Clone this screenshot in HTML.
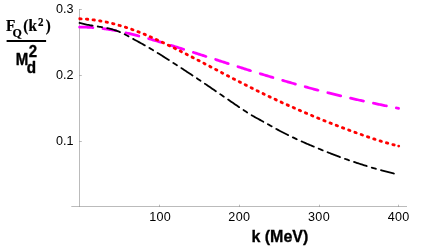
<!DOCTYPE html>
<html><head><meta charset="utf-8"><title>plot</title>
<style>
html,body{margin:0;padding:0;background:#fff;}
svg{display:block;will-change:transform;}
svg{font-family:"Liberation Sans",sans-serif;}
text{fill:#000;}
.s{font-family:"Liberation Serif",serif;font-weight:bold;}
.b{font-weight:bold;}
</style></head><body>
<svg width="424" height="249" viewBox="0 0 424 249">
<rect width="424" height="249" fill="#fff"/>
<!-- axes -->
<g stroke="#000" stroke-width="0.27" fill="none">
<path d="M79.5,9V206.5"/>
<path d="M71.3,206.5H407"/>
<path d="M79.5,9.5h2.3M79.5,75.5h2.3M79.5,141.5h2.3"/>
<path d="M159.5,206.5v-1.8M239.5,206.5v-1.8M319.5,206.5v-1.8M398.5,206.5v-1.8"/>
</g>
<!-- curves -->
<g fill="none">
<path d="M79.60,27.24 L80.60,27.22 L81.60,27.20 L82.60,27.19 L83.60,27.19 L84.60,27.19 L85.60,27.21 L86.60,27.23 L87.60,27.26 L88.60,27.30 L89.60,27.34 L90.60,27.39 L91.60,27.45 L92.60,27.52 L93.60,27.59 L94.60,27.67 L95.60,27.76 L96.60,27.85 L97.60,27.95 L98.60,28.05 L99.60,28.16 L100.60,28.28 L101.60,28.40 L102.60,28.53 L103.60,28.66 L104.60,28.80 L105.60,28.94 L106.60,29.09 L107.60,29.24 L108.60,29.40 L109.60,29.56 L110.60,29.73 L111.60,29.91 L112.60,30.08 L113.60,30.27 L114.60,30.45 L115.60,30.64 L116.60,30.84 L117.60,31.04 L118.60,31.24 L119.60,31.45 L120.60,31.66 L121.60,31.87 L122.60,32.09 L123.60,32.31 L124.60,32.53 L125.60,32.76 L126.60,32.99 L127.60,33.22 L128.60,33.46 L129.60,33.70 L130.60,33.94 L131.60,34.18 L132.60,34.43 L133.60,34.68 L134.60,34.93 L135.60,35.19 L136.60,35.45 L137.60,35.70 L138.60,35.97 L139.60,36.23 L140.60,36.50 L141.60,36.77 L142.60,37.04 L143.60,37.31 L144.60,37.58 L145.60,37.86 L146.60,38.14 L147.60,38.42 L148.60,38.70 L149.60,38.98 L150.60,39.27 L151.60,39.55 L152.60,39.84 L153.60,40.13 L154.60,40.42 L155.60,40.71 L156.60,41.01 L157.60,41.30 L158.60,41.60 L159.60,41.90 L160.60,42.19 L161.60,42.49 L162.60,42.79 L163.60,43.10 L164.60,43.40 L165.60,43.70 L166.60,44.01 L167.60,44.31 L168.60,44.62 L169.60,44.93 L170.60,45.24 L171.60,45.54 L172.60,45.85 L173.60,46.16 L174.60,46.47 L175.60,46.78 L176.60,47.09 L177.60,47.41 L178.60,47.72 L179.60,48.03 L180.60,48.35 L181.60,48.66 L182.60,48.97 L183.60,49.29 L184.60,49.61 L185.60,49.92 L186.60,50.24 L187.60,50.56 L188.60,50.87 L189.60,51.19 L190.60,51.51 L191.60,51.83 L192.60,52.15 L193.60,52.47 L194.60,52.79 L195.60,53.11 L196.60,53.43 L197.60,53.75 L198.60,54.07 L199.60,54.39 L200.60,54.71 L201.60,55.03 L202.60,55.35 L203.60,55.67 L204.60,55.99 L205.60,56.32 L206.60,56.64 L207.60,56.96 L208.60,57.28 L209.60,57.60 L210.60,57.92 L211.60,58.25 L212.60,58.57 L213.60,58.89 L214.60,59.21 L215.60,59.53 L216.60,59.86 L217.60,60.18 L218.60,60.50 L219.60,60.82 L220.60,61.14 L221.60,61.47 L222.60,61.79 L223.60,62.11 L224.60,62.43 L225.60,62.75 L226.60,63.07 L227.60,63.39 L228.60,63.71 L229.60,64.03 L230.60,64.35 L231.60,64.68 L232.60,65.00 L233.60,65.31 L234.60,65.63 L235.60,65.95 L236.60,66.27 L237.60,66.59 L238.60,66.91 L239.60,67.23 L240.60,67.55 L241.60,67.87 L242.60,68.18 L243.60,68.50 L244.60,68.82 L245.60,69.13 L246.60,69.45 L247.60,69.77 L248.60,70.08 L249.60,70.40 L250.60,70.71 L251.60,71.03 L252.60,71.34 L253.60,71.66 L254.60,71.97 L255.60,72.28 L256.60,72.59 L257.60,72.91 L258.60,73.21 L259.60,73.52 L260.60,73.82 L261.60,74.13 L262.60,74.43 L263.60,74.73 L264.60,75.04 L265.60,75.34 L266.60,75.64 L267.60,75.94 L268.60,76.24 L269.60,76.54 L270.60,76.84 L271.60,77.14 L272.60,77.44 L273.60,77.73 L274.60,78.03 L275.60,78.33 L276.60,78.62 L277.60,78.92 L278.60,79.21 L279.60,79.51 L280.60,79.80 L281.60,80.09 L282.60,80.38 L283.60,80.67 L284.60,80.96 L285.60,81.25 L286.60,81.54 L287.60,81.83 L288.60,82.12 L289.60,82.41 L290.60,82.69 L291.60,82.98 L292.60,83.26 L293.60,83.55 L294.60,83.83 L295.60,84.11 L296.60,84.39 L297.60,84.68 L298.60,84.96 L299.60,85.24 L300.60,85.51 L301.60,85.79 L302.60,86.07 L303.60,86.34 L304.60,86.62 L305.60,86.89 L306.60,87.17 L307.60,87.44 L308.60,87.71 L309.60,87.98 L310.60,88.25 L311.60,88.52 L312.60,88.79 L313.60,89.05 L314.60,89.32 L315.60,89.58 L316.60,89.85 L317.60,90.11 L318.60,90.37 L319.60,90.63 L320.60,90.89 L321.60,91.15 L322.60,91.41 L323.60,91.67 L324.60,91.92 L325.60,92.18 L326.60,92.43 L327.60,92.68 L328.60,92.93 L329.60,93.18 L330.60,93.43 L331.60,93.68 L332.60,93.93 L333.60,94.18 L334.60,94.42 L335.60,94.66 L336.60,94.91 L337.60,95.15 L338.60,95.39 L339.60,95.63 L340.60,95.87 L341.60,96.11 L342.60,96.34 L343.60,96.58 L344.60,96.82 L345.60,97.05 L346.60,97.28 L347.60,97.51 L348.60,97.74 L349.60,97.97 L350.60,98.20 L351.60,98.43 L352.60,98.66 L353.60,98.88 L354.60,99.11 L355.60,99.33 L356.60,99.56 L357.60,99.78 L358.60,100.00 L359.60,100.22 L360.60,100.44 L361.60,100.66 L362.60,100.87 L363.60,101.09 L364.60,101.31 L365.60,101.52 L366.60,101.74 L367.60,101.95 L368.60,102.16 L369.60,102.37 L370.60,102.59 L371.60,102.80 L372.60,103.02 L373.60,103.23 L374.60,103.44 L375.60,103.65 L376.60,103.86 L377.60,104.07 L378.60,104.28 L379.60,104.49 L380.60,104.70 L381.60,104.91 L382.60,105.12 L383.60,105.33 L384.60,105.53 L385.60,105.74 L386.60,105.95 L387.60,106.15 L388.60,106.36 L389.60,106.57 L390.60,106.77 L391.60,106.98 L392.60,107.19 L393.60,107.39 L394.60,107.60 L395.60,107.80 L396.60,108.01 L397.60,108.22 L398.60,108.42" stroke="#ff00ff" stroke-width="2.75" stroke-linecap="round" stroke-dasharray="13.3 10.1"/>
<path d="M79.75,18.78 L80.75,18.82 L81.75,18.87 L82.75,18.92 L83.75,18.98 L84.75,19.04 L85.75,19.11 L86.75,19.19 L87.75,19.28 L88.75,19.37 L89.75,19.47 L90.75,19.58 L91.75,19.69 L92.75,19.81 L93.75,19.94 L94.75,20.08 L95.75,20.22 L96.75,20.36 L97.75,20.52 L98.75,20.68 L99.75,20.85 L100.75,21.02 L101.75,21.20 L102.75,21.39 L103.75,21.58 L104.75,21.78 L105.75,21.98 L106.75,22.20 L107.75,22.41 L108.75,22.64 L109.75,22.87 L110.75,23.11 L111.75,23.35 L112.75,23.60 L113.75,23.85 L114.75,24.11 L115.75,24.38 L116.75,24.65 L117.75,24.92 L118.75,25.21 L119.75,25.50 L120.75,25.79 L121.75,26.09 L122.75,26.39 L123.75,26.70 L124.75,27.02 L125.75,27.34 L126.75,27.66 L127.75,27.99 L128.75,28.33 L129.75,28.67 L130.75,29.01 L131.75,29.36 L132.75,29.72 L133.75,30.08 L134.75,30.44 L135.75,30.82 L136.75,31.20 L137.75,31.59 L138.75,31.98 L139.75,32.37 L140.75,32.77 L141.75,33.18 L142.75,33.58 L143.75,34.00 L144.75,34.41 L145.75,34.83 L146.75,35.25 L147.75,35.68 L148.75,36.11 L149.75,36.55 L150.75,36.98 L151.75,37.43 L152.75,37.87 L153.75,38.32 L154.75,38.77 L155.75,39.23 L156.75,39.68 L157.75,40.14 L158.75,40.61 L159.75,41.07 L160.75,41.54 L161.75,42.02 L162.75,42.49 L163.75,42.97 L164.75,43.45 L165.75,43.93 L166.75,44.42 L167.75,44.91 L168.75,45.40 L169.75,45.89 L170.75,46.38 L171.75,46.86 L172.75,47.35 L173.75,47.84 L174.75,48.34 L175.75,48.83 L176.75,49.33 L177.75,49.83 L178.75,50.33 L179.75,50.83 L180.75,51.33 L181.75,51.84 L182.75,52.34 L183.75,52.85 L184.75,53.36 L185.75,53.87 L186.75,54.38 L187.75,54.89 L188.75,55.41 L189.75,55.92 L190.75,56.44 L191.75,56.96 L192.75,57.47 L193.75,57.99 L194.75,58.51 L195.75,59.03 L196.75,59.55 L197.75,60.08 L198.75,60.60 L199.75,61.12 L200.75,61.65 L201.75,62.17 L202.75,62.69 L203.75,63.22 L204.75,63.74 L205.75,64.27 L206.75,64.79 L207.75,65.32 L208.75,65.85 L209.75,66.37 L210.75,66.90 L211.75,67.42 L212.75,67.95 L213.75,68.47 L214.75,69.00 L215.75,69.53 L216.75,70.05 L217.75,70.58 L218.75,71.10 L219.75,71.63 L220.75,72.15 L221.75,72.67 L222.75,73.20 L223.75,73.72 L224.75,74.24 L225.75,74.76 L226.75,75.29 L227.75,75.81 L228.75,76.33 L229.75,76.85 L230.75,77.36 L231.75,77.88 L232.75,78.40 L233.75,78.92 L234.75,79.43 L235.75,79.95 L236.75,80.46 L237.75,80.98 L238.75,81.49 L239.75,82.00 L240.75,82.51 L241.75,83.02 L242.75,83.53 L243.75,84.04 L244.75,84.55 L245.75,85.05 L246.75,85.56 L247.75,86.06 L248.75,86.56 L249.75,87.06 L250.75,87.57 L251.75,88.06 L252.75,88.56 L253.75,89.06 L254.75,89.56 L255.75,90.05 L256.75,90.55 L257.75,91.04 L258.75,91.53 L259.75,92.02 L260.75,92.51 L261.75,93.00 L262.75,93.48 L263.75,93.97 L264.75,94.45 L265.75,94.93 L266.75,95.42 L267.75,95.90 L268.75,96.38 L269.75,96.85 L270.75,97.33 L271.75,97.79 L272.75,98.26 L273.75,98.73 L274.75,99.20 L275.75,99.66 L276.75,100.12 L277.75,100.59 L278.75,101.05 L279.75,101.50 L280.75,101.96 L281.75,102.42 L282.75,102.87 L283.75,103.33 L284.75,103.78 L285.75,104.23 L286.75,104.68 L287.75,105.13 L288.75,105.58 L289.75,106.03 L290.75,106.47 L291.75,106.91 L292.75,107.36 L293.75,107.80 L294.75,108.24 L295.75,108.68 L296.75,109.11 L297.75,109.55 L298.75,109.98 L299.75,110.42 L300.75,110.85 L301.75,111.28 L302.75,111.71 L303.75,112.14 L304.75,112.56 L305.75,112.99 L306.75,113.42 L307.75,113.84 L308.75,114.26 L309.75,114.68 L310.75,115.10 L311.75,115.52 L312.75,115.94 L313.75,116.35 L314.75,116.77 L315.75,117.18 L316.75,117.59 L317.75,118.00 L318.75,118.41 L319.75,118.82 L320.75,119.22 L321.75,119.62 L322.75,120.03 L323.75,120.43 L324.75,120.83 L325.75,121.23 L326.75,121.63 L327.75,122.02 L328.75,122.42 L329.75,122.81 L330.75,123.21 L331.75,123.60 L332.75,123.99 L333.75,124.38 L334.75,124.77 L335.75,125.16 L336.75,125.54 L337.75,125.93 L338.75,126.31 L339.75,126.69 L340.75,127.07 L341.75,127.45 L342.75,127.83 L343.75,128.20 L344.75,128.58 L345.75,128.95 L346.75,129.33 L347.75,129.70 L348.75,130.07 L349.75,130.43 L350.75,130.80 L351.75,131.17 L352.75,131.53 L353.75,131.89 L354.75,132.25 L355.75,132.61 L356.75,132.97 L357.75,133.32 L358.75,133.67 L359.75,134.03 L360.75,134.38 L361.75,134.74 L362.75,135.09 L363.75,135.44 L364.75,135.79 L365.75,136.14 L366.75,136.49 L367.75,136.83 L368.75,137.17 L369.75,137.51 L370.75,137.85 L371.75,138.19 L372.75,138.52 L373.75,138.85 L374.75,139.18 L375.75,139.50 L376.75,139.82 L377.75,140.14 L378.75,140.46 L379.75,140.78 L380.75,141.09 L381.75,141.40 L382.75,141.70 L383.75,142.00 L384.75,142.30 L385.75,142.60 L386.75,142.89 L387.75,143.18 L388.75,143.47 L389.75,143.75 L390.75,144.03 L391.75,144.30 L392.75,144.57 L393.75,144.84 L394.75,145.10 L395.75,145.36 L396.75,145.61 L397.75,145.86 L398.75,146.11 L398.90,146.14" stroke="#ff0000" stroke-width="2.85" stroke-linecap="round" stroke-dasharray="1.4 5.25"/>
<circle cx="398.7" cy="146.09" r="1.4" fill="#ff0000"/>
<path d="M79.50,22.91 L80.50,23.19 L81.50,23.45 L82.50,23.70 L83.50,23.94 L84.50,24.16 L85.50,24.38 L86.50,24.59 L87.50,24.78 L88.50,24.97 L89.50,25.15 L90.50,25.33 L91.50,25.50 L92.50,25.67 L93.50,25.83 L94.50,25.99 L95.50,26.15 L96.50,26.31 L97.50,26.47 L98.50,26.63 L99.50,26.79 L100.50,26.95 L101.50,27.12 L102.50,27.29 L103.50,27.47 L104.50,27.65 L105.50,27.85 L106.50,28.05 L107.50,28.25 L108.50,28.47 L109.50,28.70 L110.50,28.94 L111.50,29.20 L112.50,29.46 L113.50,29.75 L114.50,30.05 L115.50,30.37 L116.50,30.70 L117.50,31.06 L118.50,31.44 L119.50,31.84 L120.50,32.27 L121.50,32.72 L122.50,33.20 L123.50,33.69 L124.50,34.21 L125.50,34.74 L126.50,35.28 L127.50,35.83 L128.50,36.38 L129.50,36.94 L130.50,37.49 L131.50,38.04 L132.50,38.59 L133.50,39.13 L134.50,39.68 L135.50,40.23 L136.50,40.77 L137.50,41.32 L138.50,41.86 L139.50,42.41 L140.50,42.96 L141.50,43.51 L142.50,44.06 L143.50,44.62 L144.50,45.18 L145.50,45.74 L146.50,46.31 L147.50,46.88 L148.50,47.45 L149.50,48.03 L150.50,48.62 L151.50,49.21 L152.50,49.81 L153.50,50.41 L154.50,51.01 L155.50,51.62 L156.50,52.23 L157.50,52.85 L158.50,53.47 L159.50,54.10 L160.50,54.72 L161.50,55.35 L162.50,55.98 L163.50,56.62 L164.50,57.25 L165.50,57.89 L166.50,58.53 L167.50,59.17 L168.50,59.81 L169.50,60.46 L170.50,61.10 L171.50,61.74 L172.50,62.39 L173.50,63.03 L174.50,63.68 L175.50,64.32 L176.50,64.97 L177.50,65.62 L178.50,66.26 L179.50,66.91 L180.50,67.56 L181.50,68.21 L182.50,68.86 L183.50,69.51 L184.50,70.17 L185.50,70.82 L186.50,71.47 L187.50,72.13 L188.50,72.79 L189.50,73.44 L190.50,74.10 L191.50,74.76 L192.50,75.42 L193.50,76.08 L194.50,76.74 L195.50,77.41 L196.50,78.07 L197.50,78.74 L198.50,79.41 L199.50,80.08 L200.50,80.75 L201.50,81.42 L202.50,82.09 L203.50,82.77 L204.50,83.44 L205.50,84.12 L206.50,84.80 L207.50,85.48 L208.50,86.16 L209.50,86.84 L210.50,87.52 L211.50,88.20 L212.50,88.89 L213.50,89.57 L214.50,90.26 L215.50,90.94 L216.50,91.63 L217.50,92.31 L218.50,93.00 L219.50,93.68 L220.50,94.37 L221.50,95.06 L222.50,95.75 L223.50,96.43 L224.50,97.12 L225.50,97.81 L226.50,98.49 L227.50,99.18 L228.50,99.86 L229.50,100.55 L230.50,101.23 L231.50,101.92 L232.50,102.60 L233.50,103.28 L234.50,103.97 L235.50,104.65 L236.50,105.33 L237.50,106.01 L238.50,106.68 L239.50,107.36 L240.50,108.04 L241.50,108.71 L242.50,109.38 L243.50,110.05 L244.50,110.71 L245.50,111.36 L246.50,112.01 L247.50,112.65 L248.50,113.28 L249.50,113.91 L250.50,114.52 L251.50,115.12 L252.50,115.71 L253.50,116.28 L254.50,116.86 L255.50,117.42 L256.50,117.97 L257.50,118.53 L258.50,119.07 L259.50,119.62 L260.50,120.16 L261.50,120.70 L262.50,121.24 L263.50,121.79 L264.50,122.33 L265.50,122.89 L266.50,123.44 L267.50,124.00 L268.50,124.57 L269.50,125.14 L270.50,125.71 L271.50,126.28 L272.50,126.85 L273.50,127.41 L274.50,127.97 L275.50,128.52 L276.50,129.07 L277.50,129.61 L278.50,130.14 L279.50,130.68 L280.50,131.20 L281.50,131.73 L282.50,132.24 L283.50,132.76 L284.50,133.27 L285.50,133.77 L286.50,134.27 L287.50,134.77 L288.50,135.26 L289.50,135.75 L290.50,136.24 L291.50,136.72 L292.50,137.20 L293.50,137.67 L294.50,138.14 L295.50,138.61 L296.50,139.08 L297.50,139.54 L298.50,139.99 L299.50,140.45 L300.50,140.90 L301.50,141.35 L302.50,141.80 L303.50,142.24 L304.50,142.68 L305.50,143.12 L306.50,143.55 L307.50,143.99 L308.50,144.42 L309.50,144.85 L310.50,145.27 L311.50,145.70 L312.50,146.12 L313.50,146.54 L314.50,146.96 L315.50,147.38 L316.50,147.79 L317.50,148.21 L318.50,148.62 L319.50,149.03 L320.50,149.44 L321.50,149.85 L322.50,150.25 L323.50,150.65 L324.50,151.05 L325.50,151.45 L326.50,151.85 L327.50,152.25 L328.50,152.64 L329.50,153.03 L330.50,153.42 L331.50,153.81 L332.50,154.19 L333.50,154.58 L334.50,154.96 L335.50,155.34 L336.50,155.71 L337.50,156.09 L338.50,156.46 L339.50,156.83 L340.50,157.20 L341.50,157.57 L342.50,157.93 L343.50,158.29 L344.50,158.65 L345.50,159.01 L346.50,159.37 L347.50,159.72 L348.50,160.07 L349.50,160.42 L350.50,160.76 L351.50,161.11 L352.50,161.45 L353.50,161.78 L354.50,162.12 L355.50,162.45 L356.50,162.79 L357.50,163.12 L358.50,163.44 L359.50,163.77 L360.50,164.09 L361.50,164.41 L362.50,164.73 L363.50,165.04 L364.50,165.35 L365.50,165.66 L366.50,165.97 L367.50,166.28 L368.50,166.58 L369.50,166.88 L370.50,167.18 L371.50,167.48 L372.50,167.77 L373.50,168.06 L374.50,168.35 L375.50,168.64 L376.50,168.92 L377.50,169.20 L378.50,169.48 L379.50,169.76 L380.50,170.04 L381.50,170.31 L382.50,170.58 L383.50,170.85 L384.50,171.11 L385.50,171.38 L386.50,171.64 L387.50,171.90 L388.50,172.15 L389.50,172.41 L390.50,172.66 L391.50,172.91 L392.50,173.16 L393.50,173.40 L394.50,173.64 L395.50,173.88 L396.50,174.12 L396.90,174.22" stroke="#000" stroke-width="1.8" stroke-linecap="round" stroke-dasharray="13.4 5.2 4.4 5.2"/>
</g>
<!-- tick labels -->
<g font-size="12.6">
<text x="73.5" y="13.2" text-anchor="end">0.3</text>
<text x="73.5" y="79.2" text-anchor="end">0.2</text>
<text x="73.5" y="145.2" text-anchor="end">0.1</text>
<text x="160.1" y="220.7" text-anchor="middle" letter-spacing="0.3">100</text>
<text x="239.3" y="220.7" text-anchor="middle" letter-spacing="0.3">200</text>
<text x="319.0" y="220.7" text-anchor="middle" letter-spacing="0.3">300</text>
<text x="398.7" y="220.7" text-anchor="middle" letter-spacing="0.3">400</text>
</g>
<text class="b" transform="translate(251.4,241.9) scale(1.003,1.05)" font-size="16" stroke="#000" stroke-width="0.3">k (MeV)</text>
<!-- y label -->
<g class="s" stroke="#000" stroke-width="0.2">
<text transform="translate(6.0,30.6) scale(1.02,1.08)" font-size="15">F</text>
<text transform="translate(12.6,36.6) scale(1,1.05)" font-size="12">Q</text>
<text transform="translate(23.2,30.6) scale(1,1.08)" font-size="15">(</text>
<text transform="translate(28.4,30.6) scale(1.02,1.08)" font-size="15">k</text>
<text transform="translate(37.9,25.9) scale(1,1.05)" font-size="11">2</text>
<text transform="translate(45.8,30.6) scale(1,1.08)" font-size="15">)</text>
</g>
<rect x="6.6" y="40" width="39.5" height="2" fill="#000"/>
<g stroke="#000" stroke-width="0.35" stroke-linejoin="round">
<text class="b" transform="translate(15.8,64.7) scale(1,1.13)" font-size="15">M</text>
<text class="b" transform="translate(28.8,56.7) scale(1,1.13)" font-size="15">2</text>
<text class="b" transform="translate(26.7,73.1) scale(1.02,1.07)" font-size="15">d</text>
</g>
</svg>
</body></html>
